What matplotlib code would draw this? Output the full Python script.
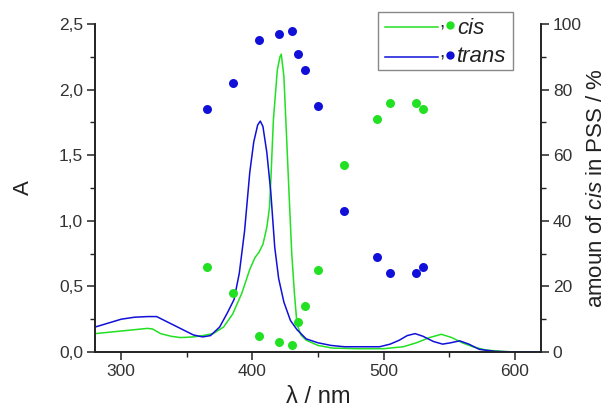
import matplotlib
matplotlib.use("Agg")
import matplotlib.pyplot as plt
from matplotlib.lines import Line2D
from matplotlib.patches import Rectangle
from matplotlib.ticker import MultipleLocator

plt.rcParams['font.family'] = ['Liberation Sans', 'DejaVu Sans']
plt.rcParams['mathtext.fontset'] = 'custom'
plt.rcParams['mathtext.rm'] = 'Liberation Sans'
plt.rcParams['mathtext.it'] = 'Liberation Sans:italic'

# ---- spectra (absorbance) ----
trans_wl = [280, 290, 300, 310, 320, 327, 335, 345, 355, 362, 368, 375, 381, 386, 390,
            394, 398, 401, 404, 406, 408, 411, 414, 417, 420, 424, 429, 434, 441, 450,
            460, 470, 485, 497, 505, 512, 518, 524, 530, 538, 545, 551, 558, 565, 573,
            585, 600, 620]
trans_A = [0.19, 0.22, 0.25, 0.265, 0.27, 0.27, 0.23, 0.18, 0.13, 0.115, 0.125, 0.19, 0.30,
           0.40, 0.60, 0.92, 1.37, 1.6, 1.73, 1.76, 1.72, 1.52, 1.22, 0.80, 0.56, 0.38,
           0.24, 0.17, 0.10, 0.07, 0.05, 0.04, 0.04, 0.04, 0.06, 0.09, 0.125, 0.14, 0.12,
           0.08, 0.06, 0.07, 0.085, 0.06, 0.02, 0.005, 0.0, 0.0]

cis_wl = [280, 290, 300, 310, 320, 324, 330, 338, 345, 355, 362, 370, 378, 385, 392, 398,
          402, 405, 408, 411, 413, 414, 416, 419, 421, 422, 424, 426, 428, 430, 432, 434,
          437, 441, 450, 461, 480, 500, 515, 525, 535, 544, 552, 560, 568, 578, 590, 600,
          620]
cis_A = [0.14, 0.15, 0.16, 0.17, 0.18, 0.175, 0.14, 0.12, 0.11, 0.115, 0.125, 0.14, 0.19,
         0.29, 0.45, 0.63, 0.72, 0.76, 0.82, 0.95, 1.1, 1.3, 1.77, 2.15, 2.25, 2.27, 2.1,
         1.65, 1.19, 0.75, 0.45, 0.21, 0.13, 0.09, 0.05, 0.03, 0.025, 0.025, 0.04, 0.07,
         0.11, 0.135, 0.11, 0.07, 0.04, 0.015, 0.005, 0.0, 0.0]

# ---- PSS composition (%) ----
pss_wl = [365, 385, 405, 420, 430, 435, 440, 450, 470, 495, 505, 525, 530]
pss_cis = [26, 18, 5, 3, 2, 9, 14, 25, 57, 71, 76, 76, 74]
pss_trans = [74, 82, 95, 97, 98, 91, 86, 75, 43, 29, 24, 24, 26]

# ---- ticks ----
x_ticks = [300, 400, 500, 600]
y_ticks = [0.0, 0.5, 1.0, 1.5, 2.0, 2.5]
y_ticklabels = ["0,0", "0,5", "1,0", "1,5", "2,0", "2,5"]
y2_ticks = [0, 20, 40, 60, 80, 100]

GREEN = '#22e022'
BLUE = '#1010d8'

W, H = 608, 415
fig = plt.figure(figsize=(W / 100, H / 100), dpi=100)
ax = fig.add_axes([95 / W, 1 - 352 / H, (541 - 95) / W, (352 - 24) / H])
ax2 = ax.twinx()

ax.plot(cis_wl, cis_A, color=GREEN, lw=1.1, zorder=3)
ax.plot(trans_wl, trans_A, color=BLUE, lw=1.1, zorder=3)
ax2.scatter(pss_wl, pss_cis, s=42, color=GREEN, linewidths=0, zorder=4)
ax2.scatter(pss_wl, pss_trans, s=42, color=BLUE, linewidths=0, zorder=4)

ax.set_xlim(280, 620)
ax.set_ylim(0, 2.5)
ax2.set_ylim(0, 100)

ax.set_xticks(x_ticks)
ax.set_yticks(y_ticks)
ax.set_yticklabels(y_ticklabels)
ax2.set_yticks(y2_ticks)
ax.xaxis.set_minor_locator(MultipleLocator(50))
ax.yaxis.set_minor_locator(MultipleLocator(0.25))
ax2.yaxis.set_minor_locator(MultipleLocator(10))

for a in (ax, ax2):
    a.spines['top'].set_visible(False)
    for s in a.spines.values():
        s.set_linewidth(1.2)
        s.set_color('#222222')
    a.tick_params(which='major', direction='out', length=6, width=1.1, labelsize=12.5,
                  pad=2.5, colors='#222222', labelcolor='#333333')
    a.tick_params(which='minor', direction='out', length=3.5, width=1.0, colors='#222222')

ax.set_xlabel('λ / nm', fontsize=17, labelpad=5, color='#222222')
ax.set_ylabel('A', fontsize=16, labelpad=18, color='#222222')
ax2.set_ylabel('amoun of $\\it{cis}$ in PSS / %', fontsize=16, labelpad=3, color='#222222')

# ---- legend (drawn manually to mimic "line, dot label") ----
def fx(px):
    return px / W

def fy(py):
    return 1 - py / H

fig.add_artist(Rectangle((fx(378), fy(70)), fx(513) - fx(378), fy(12) - fy(70),
                         transform=fig.transFigure, facecolor='white',
                         edgecolor='#888888', lw=1.0, zorder=10))
for col, ly, ty, lab in [(GREEN, 27, 28, 'cis'), (BLUE, 57, 56, 'trans')]:
    fig.add_artist(Line2D([fx(385), fx(438)], [fy(ly), fy(ly)], transform=fig.transFigure,
                          color=col, lw=1.1, zorder=11))
    fig.text(fx(439), fy(ly + 1), ',', fontsize=14, ha='left', va='baseline', zorder=11,
             color='#222222')
    fig.add_artist(Line2D([fx(450)], [fy(ly - 2)], transform=fig.transFigure, marker='o',
                          markersize=6, color=col, markeredgewidth=0, zorder=11))
    fig.text(fx(457), fy(ty), lab, fontsize=16, style='italic', ha='left',
             va='center', zorder=11, color='#222222')

fig.savefig('out.png', dpi=100)
